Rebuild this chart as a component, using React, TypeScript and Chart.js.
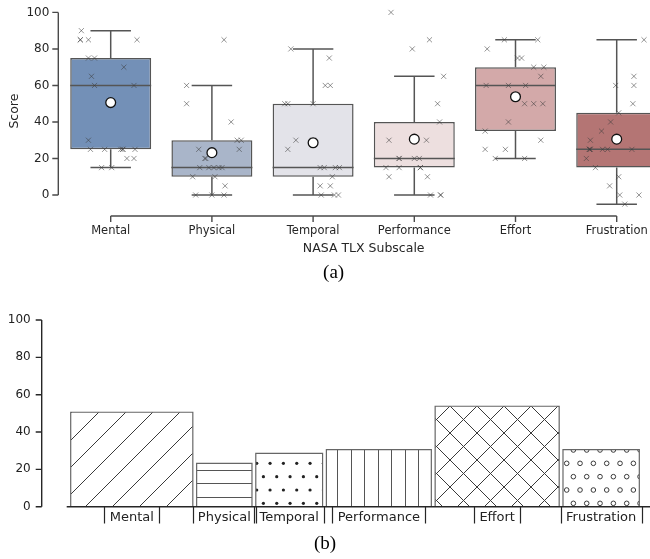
import React, { useEffect, useRef } from 'react';
import { Chart, registerables } from 'chart.js';

Chart.register(...registerables);

const FONT = 'DejaVu Sans';

// ---------- data ----------
const categories = ['Mental', 'Physical', 'Temporal', 'Performance', 'Effort', 'Frustration'];
const boxMin = [15, 0, 0, 0, 20, -5];
const boxQ1 = [25, 10, 10, 15, 35, 15];
const boxMedian = [60, 15, 15, 20, 60, 25];
const boxQ3 = [75, 30, 50, 40, 70, 45];
const boxMax = [90, 60, 80, 65, 85, 85];
const meanScores = [50.6, 23.2, 28.6, 30.6, 53.8, 30.6];
const subscaleWeights = [3.3, 1.55, 1.85, 2.85, 3.35, 2.1];
const yTickValues = [0, 20, 40, 60, 80, 100];

const mentalScores = [90, 85, 85, 85, 85, 75, 75, 70, 65, 60, 60, 30, 25, 25, 25, 25, 25, 25, 20, 20, 15, 15];
const mentalJitter = [-0.29, -0.3, -0.3, -0.22, 0.26, -0.22, -0.16, 0.13, -0.19, -0.16, 0.23, -0.22, -0.2, -0.06, 0.1, 0.12, 0.12, 0.24, 0.16, 0.23, -0.09, 0.01];
const physicalScores = [85, 60, 50, 40, 30, 30, 25, 25, 20, 20, 15, 15, 15, 15, 15, 10, 10, 5, 0, 0, 0];
const physicalJitter = [0.12, -0.25, -0.25, 0.19, 0.25, 0.29, -0.13, 0.27, -0.07, -0.06, -0.12, -0.03, 0.02, 0.07, 0.1, -0.19, 0.03, 0.13, -0.16, 0, 0.12];
const temporalScores = [80, 75, 60, 60, 50, 50, 50, 30, 30, 25, 15, 15, 15, 15, 10, 5, 5, 0, 0, 0];
const temporalJitter = [-0.22, 0.16, 0.12, 0.17, -0.28, -0.25, 0, -0.17, 0, -0.25, 0.07, 0.11, 0.22, 0.26, 0.19, 0.07, 0.17, 0.08, 0.21, 0.25];
const performanceScores = [100, 85, 80, 65, 50, 40, 30, 30, 20, 20, 20, 20, 15, 15, 15, 15, 10, 10, 0, 0, 0];
const performanceJitter = [-0.23, 0.15, -0.02, 0.29, 0.23, 0.25, -0.25, 0.12, -0.15, -0.15, 0, 0.05, -0.28, -0.15, 0.06, 0.06, -0.25, 0.13, 0.16, 0.26, 0.26];
const effortScores = [85, 85, 80, 75, 75, 70, 70, 65, 60, 60, 60, 50, 50, 50, 40, 35, 30, 25, 25, 20, 20];
const effortJitter = [-0.11, 0.22, -0.28, 0.02, 0.06, 0.18, 0.28, 0.25, -0.29, -0.07, 0.1, 0.09, 0.18, 0.27, -0.07, -0.3, 0.25, -0.3, -0.1, -0.2, 0.09];
const frustrationScores = [85, 65, 60, 60, 50, 45, 40, 35, 30, 25, 25, 25, 25, 25, 25, 20, 15, 10, 5, 0, 0, -5];
const frustrationJitter = [0.27, 0.17, 0.17, -0.01, 0.16, 0.02, -0.06, -0.15, -0.26, -0.27, -0.27, -0.26, -0.14, -0.09, 0.15, -0.3, -0.21, 0.02, -0.07, 0.03, 0.22, 0.08];

const allScores = [mentalScores, physicalScores, temporalScores, performanceScores, effortScores, frustrationScores];
const allJitter = [mentalJitter, physicalJitter, temporalJitter, performanceJitter, effortJitter, frustrationJitter];

// ---------- styles ----------
const boxFill = [
  'rgb(115,144,183)',
  'rgb(169,181,201)',
  'rgb(227,227,233)',
  'rgb(237,223,223)',
  'rgb(211,169,169)',
  'rgb(180,117,116)',
];
const hatchKinds = ['diag', 'hlines', 'dots', 'vlines', 'cross', 'circles'];

function makePattern(kind: string): CanvasPattern | string {
  const c = document.createElement('canvas');
  const ctx = c.getContext('2d');
  if (!ctx) return 'white';
  if (kind === 'diag' || kind === 'cross') {
    c.width = 27; c.height = 27;
    ctx.strokeStyle = '#3a3a3a';
    ctx.lineWidth = 1;
    const slash = kind === 'diag' ? [10, 37] : [4, 31];
    ctx.beginPath();
    slash.forEach((k) => { ctx.moveTo(k + 2, -2); ctx.lineTo(k - 29, 29); });
    if (kind === 'cross') {
      [5, -22].forEach((k) => { ctx.moveTo(k - 2, -2); ctx.lineTo(k + 29, 29); });
    }
    ctx.stroke();
  } else if (kind === 'hlines') {
    c.width = 40; c.height = 40;
    ctx.fillStyle = '#555';
    [12, 25, 38].forEach((r) => ctx.fillRect(0, r, 40, 1));
  } else if (kind === 'vlines') {
    c.width = 27; c.height = 27;
    ctx.fillStyle = '#555';
    [0, 13].forEach((r) => ctx.fillRect(r, 0, 1, 27));
  } else {
    c.width = 80; c.height = 80;
    const step = 80 / 6;
    const oddOff = kind === 'dots' ? 3.4 : 6.7;
    for (let j = -1; j <= 6; j++) {
      const yy = 5 + j * step;
      const off = (((j % 2) + 2) % 2 === 1) ? oddOff : oddOff + step / 2;
      for (let k = -1; k <= 6; k++) {
        const xx = off + k * step;
        ctx.beginPath();
        if (kind === 'dots') {
          ctx.fillStyle = '#222';
          ctx.arc(xx, yy, 1.6, 0, Math.PI * 2);
          ctx.fill();
        } else {
          ctx.strokeStyle = '#3a3a3a';
          ctx.lineWidth = 1;
          ctx.arc(xx, yy, 2.3, 0, Math.PI * 2);
          ctx.stroke();
        }
      }
    }
  }
  const p = ctx.createPattern(c, 'repeat');
  return p || 'white';
}

const zeroPad = (s: any) => {
  s.paddingTop = 0;
  s.paddingBottom = 0;
  s.paddingLeft = 0;
  s.paddingRight = 0;
};

const topSpines = {
  id: 'topSpines',
  afterDraw(chart: any) {
    const { ctx, chartArea, scales } = chart;
    const x = scales.x;
    const y = scales.y;
    ctx.save();
    ctx.strokeStyle = '#4a4a4a';
    ctx.lineWidth = 1.4;
    const sx = chartArea.left - 1.8;
    ctx.beginPath();
    ctx.moveTo(sx, y.getPixelForValue(yTickValues[0]));
    ctx.lineTo(sx, y.getPixelForValue(yTickValues[yTickValues.length - 1]));
    yTickValues.forEach((v) => {
      const py = y.getPixelForValue(v);
      ctx.moveTo(sx - 6, py);
      ctx.lineTo(sx, py);
    });
    const yb = chartArea.bottom;
    ctx.moveTo(x.getPixelForValue(0), yb);
    ctx.lineTo(x.getPixelForValue(categories.length - 1), yb);
    categories.forEach((_, i) => {
      const px = x.getPixelForValue(i);
      ctx.moveTo(px, yb);
      ctx.lineTo(px, yb + 6);
    });
    ctx.stroke();
    ctx.restore();
  },
};

function barCenters(): number[] {
  const out: number[] = [];
  let cum = 0;
  subscaleWeights.forEach((w) => { out.push(cum + w / 2); cum += w; });
  return out;
}

const bottomSpines = {
  id: 'bottomSpines',
  afterDraw(chart: any) {
    const { ctx, chartArea, scales } = chart;
    const x = scales.x;
    const y = scales.y;
    ctx.save();
    ctx.strokeStyle = '#262626';
    ctx.lineWidth = 1.4;
    const sx = chartArea.left - 25;
    ctx.beginPath();
    ctx.moveTo(sx, y.getPixelForValue(yTickValues[0]));
    ctx.lineTo(sx, y.getPixelForValue(yTickValues[yTickValues.length - 1]));
    yTickValues.forEach((v) => {
      const py = y.getPixelForValue(v);
      ctx.moveTo(sx - 6, py);
      ctx.lineTo(sx, py);
    });
    const yb = chartArea.bottom;
    ctx.moveTo(chartArea.left, yb);
    ctx.lineTo(chartArea.right, yb);
    ctx.stroke();
    ctx.lineWidth = 1.2;
    ctx.font = `13px "${FONT}"`;
    ctx.beginPath();
    barCenters().forEach((c, i) => {
      const px = x.getPixelForValue(c);
      const hw = ctx.measureText(categories[i]).width / 2 + 5.3;
      [px - hw, px + hw].forEach((lx) => {
        const rx = Math.round(lx) + 0.5;
        ctx.moveTo(rx, yb);
        ctx.lineTo(rx, yb + 16.7);
      });
    });
    ctx.stroke();
    ctx.restore();
  },
};

export default function App() {
  const topRef = useRef<HTMLCanvasElement>(null);
  const botRef = useRef<HTMLCanvasElement>(null);

  useEffect(() => {
    if (!topRef.current || !botRef.current) return;

    // ----- top: box plot -----
    const whiskers: any[] = [];
    categories.forEach((_, i) => {
      const gap = { x: i, y: null };
      whiskers.push({ x: i - 0.2, y: boxMax[i] }, { x: i + 0.2, y: boxMax[i] }, gap);
      whiskers.push({ x: i, y: boxMax[i] }, { x: i, y: boxQ3[i] }, gap);
      whiskers.push({ x: i, y: boxQ1[i] }, { x: i, y: boxMin[i] }, gap);
      whiskers.push({ x: i - 0.2, y: boxMin[i] }, { x: i + 0.2, y: boxMin[i] }, gap);
      whiskers.push({ x: i - 0.4, y: boxMedian[i] }, { x: i + 0.4, y: boxMedian[i] }, gap);
    });
    const crosses: any[] = [];
    allScores.forEach((vals, i) => {
      vals.forEach((v, k) => crosses.push({ x: i + allJitter[i][k], y: v }));
    });
    const means = meanScores.map((m, i) => ({ x: i, y: m }));

    const top = new Chart(topRef.current, {
      type: 'bar',
      data: {
        labels: categories,
        datasets: [
          {
            type: 'bar',
            data: boxQ1.map((q, i) => [q, boxQ3[i]]),
            backgroundColor: boxFill,
            borderColor: '#555',
            borderWidth: 1.5,
            borderSkipped: false,
            grouped: false,
            barPercentage: 0.8,
            categoryPercentage: 1,
            xAxisID: 'x',
            yAxisID: 'y',
            order: 4,
          } as any,
          {
            type: 'line',
            data: whiskers,
            borderColor: '#555',
            borderWidth: 1.5,
            pointRadius: 0,
            spanGaps: false,
            fill: false,
            xAxisID: 'x2',
            yAxisID: 'y',
            order: 3,
          } as any,
          {
            type: 'scatter',
            data: crosses,
            pointStyle: 'crossRot',
            pointRadius: 3.6,
            borderWidth: 1,
            borderColor: 'rgba(60,60,60,0.55)',
            backgroundColor: 'rgba(60,60,60,0.55)',
            xAxisID: 'x2',
            yAxisID: 'y',
            order: 2,
          } as any,
          {
            type: 'scatter',
            data: means,
            pointStyle: 'circle',
            pointRadius: 4.9,
            borderWidth: 1.3,
            borderColor: '#111',
            backgroundColor: '#fff',
            xAxisID: 'x2',
            yAxisID: 'y',
            order: 1,
          } as any,
        ],
      },
      options: {
        responsive: false,
        animation: false,
        layout: { padding: { top: 2, right: 7.7, left: 0, bottom: 0 } },
        plugins: {
          legend: { display: false },
          tooltip: { enabled: false },
          title: {
            display: true,
            text: '(a)',
            position: 'bottom',
            color: '#000',
            font: { family: 'Liberation Serif', size: 19, weight: 'normal' },
            padding: { top: 0, bottom: 0.3 },
          },
        },
        scales: {
          x: {
            type: 'category',
            offset: true,
            grid: { display: false, drawTicks: false, offset: true },
            border: { display: false },
            ticks: { color: '#262626', font: { family: FONT, size: 11.5 }, padding: 8.6, maxRotation: 0, autoSkip: false },
            title: {
              display: true,
              text: 'NASA TLX Subscale',
              color: '#262626',
              font: { family: FONT, size: 12.5 },
              padding: { top: 0, bottom: 5.9 },
            },
            afterFit: (s: any) => { s.height = 45.9; zeroPad(s); },
          },
          x2: {
            type: 'linear',
            display: false,
            offset: false,
            grid: { offset: false },
            min: -0.5,
            max: 5.5,
            afterFit: zeroPad,
          },
          y: {
            min: -11.5,
            max: 103.4,
            grid: { display: false, drawTicks: false },
            border: { display: false },
            ticks: { color: '#262626', font: { family: FONT, size: 12 }, padding: 10.8 },
            afterBuildTicks: (s: any) => { s.ticks = yTickValues.map((v) => ({ value: v })); },
            title: {
              display: true,
              text: 'Score',
              color: '#262626',
              font: { family: FONT, size: 12.5 },
              padding: { top: 7.5, bottom: 0 },
            },
            afterFit: (s: any) => { s.width = 60.1; zeroPad(s); },
          },
        } as any,
      },
      plugins: [topSpines],
    });

    // ----- bottom: weighted bars -----
    const centers = barCenters();
    const bars: any[] = [];
    let cum = 0;
    subscaleWeights.forEach((w, i) => {
      const a = cum + 0.05;
      const b = cum + w - 0.05;
      cum += w;
      bars.push({
        label: categories[i],
        data: [
          { x: a, y: 0 },
          { x: a, y: meanScores[i] },
          { x: b, y: meanScores[i] },
          { x: b, y: 0 },
        ],
        fill: 'origin',
        backgroundColor: makePattern(hatchKinds[i]),
        borderColor: '#666',
        borderWidth: 1.2,
        pointRadius: 0,
        tension: 0,
      });
    });

    const bottom = new Chart(botRef.current, {
      type: 'line',
      data: { datasets: bars },
      options: {
        responsive: false,
        animation: false,
        layout: { padding: { top: 25.7, right: 25, left: 0, bottom: 0 } },
        plugins: {
          legend: { display: false },
          tooltip: { enabled: false },
          title: {
            display: true,
            text: '(b)',
            position: 'bottom',
            color: '#000',
            font: { family: 'Liberation Serif', size: 19, weight: 'normal' },
            padding: { top: 0, bottom: 3.1 },
          },
        },
        scales: {
          x: {
            type: 'linear',
            min: -0.055,
            max: 15.23,
            grid: { display: false, drawTicks: false },
            border: { display: false },
            ticks: {
              color: '#222',
              font: { family: FONT, size: 13 },
              padding: 2.8,
              autoSkip: false,
              maxRotation: 0,
              callback: (_v: any, i: number) => categories[i],
            },
            afterBuildTicks: (s: any) => { s.ticks = centers.map((v) => ({ value: v })); },
            afterFit: (s: any) => { s.height = 26.4; zeroPad(s); },
          },
          y: {
            min: 0,
            max: 105,
            grid: { display: false, drawTicks: false },
            border: { display: false },
            ticks: { color: '#222', font: { family: FONT, size: 12 }, padding: 36 },
            afterBuildTicks: (s: any) => { s.ticks = yTickValues.map((v) => ({ value: v })); },
            afterFit: (s: any) => { s.width = 66.7; zeroPad(s); },
          },
        } as any,
      },
      plugins: [bottomSpines],
    });

    return () => {
      top.destroy();
      bottom.destroy();
    };
  }, []);

  return (
    <div
      style={{
        position: 'absolute',
        left: 0,
        top: 0,
        width: 650,
        height: 559,
        overflow: 'hidden',
        background: '#fff',
      }}
    >
      <canvas ref={topRef} width={675} height={285} style={{ display: 'block' }} />
      <canvas ref={botRef} width={675} height={274} style={{ display: 'block' }} />
    </div>
  );
}
